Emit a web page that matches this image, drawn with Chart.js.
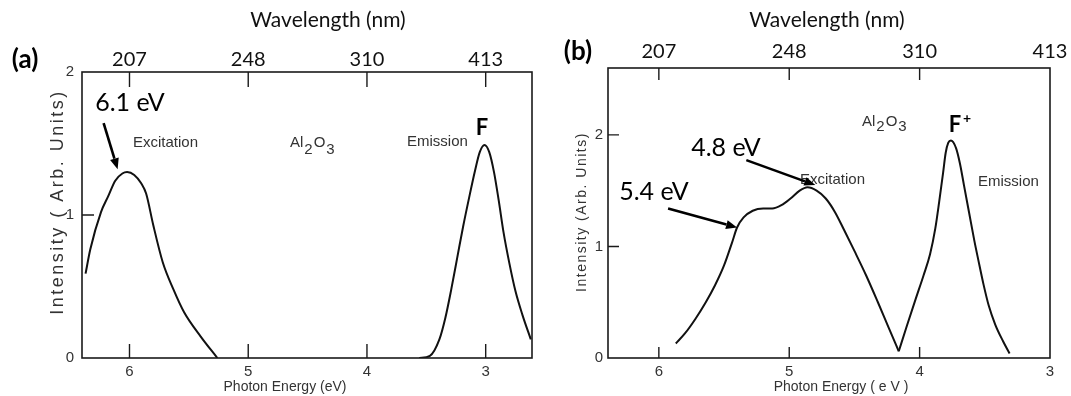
<!DOCTYPE html>
<html lang="en">
<head>
<meta charset="UTF-8">
<title>Al2O3 F and F+ centre spectra</title>
<script src="https://cdn.jsdelivr.net/npm/chart.js"></script>
<style>
  body { margin: 0; background: #fff; }
  canvas { position: absolute; top: 0; }
  #chart-a { left: 0; }
  #chart-b { left: 545px; }
</style>
</head>
<body>
<canvas id="chart-a" width="545" height="396"></canvas>
<canvas id="chart-b" width="526" height="396"></canvas>
<script>
// shared axes: photon energy (bottom) and the matching wavelength (top)
const energyTicks = [6, 5, 4, 3];
const wavelengthLabels = ['207', '248', '310', '413'];
const intensityTicks = [0, 1, 2];

// (a) F centre
const aExcitationEnergy = [6.37, 6.33, 6.24, 6.18, 6.12, 6.06, 6.02, 5.96, 5.90, 5.86, 5.80, 5.72, 5.63, 5.54, 5.40, 5.26];
const aExcitationIntensity = [0.59, 0.76, 1.02, 1.13, 1.24, 1.29, 1.30, 1.28, 1.22, 1.15, 0.93, 0.67, 0.48, 0.32, 0.15, 0.0];
const aEmissionEnergy = [3.56, 3.47, 3.39, 3.34, 3.29, 3.24, 3.19, 3.14, 3.09, 3.05, 3.01, 2.97, 2.93, 2.89, 2.85, 2.80, 2.75, 2.69, 2.62];
const aEmissionIntensity = [0.0, 0.015, 0.13, 0.28, 0.48, 0.70, 0.92, 1.12, 1.31, 1.44, 1.49, 1.44, 1.30, 1.10, 0.88, 0.66, 0.47, 0.30, 0.13];

// (b) F+ centre
const bExcitationEnergy = [5.87, 5.80, 5.72, 5.64, 5.57, 5.50, 5.44, 5.40, 5.35, 5.28, 5.20, 5.13, 5.06, 4.99, 4.92, 4.86, 4.79, 4.72, 4.65, 4.58, 4.50, 4.41, 4.32, 4.24, 4.16];
const bExcitationIntensity = [0.13, 0.22, 0.35, 0.50, 0.65, 0.83, 1.03, 1.17, 1.26, 1.32, 1.34, 1.34, 1.37, 1.43, 1.50, 1.53, 1.50, 1.43, 1.31, 1.15, 0.96, 0.74, 0.50, 0.28, 0.06];
const bEmissionEnergy = [4.16, 4.10, 4.03, 3.97, 3.92, 3.88, 3.85, 3.82, 3.80, 3.78, 3.76, 3.72, 3.69, 3.66, 3.62, 3.58, 3.55, 3.51, 3.47, 3.42, 3.36, 3.31];
const bEmissionIntensity = [0.06, 0.28, 0.53, 0.74, 0.93, 1.16, 1.40, 1.66, 1.84, 1.93, 1.95, 1.88, 1.74, 1.55, 1.30, 1.05, 0.88, 0.66, 0.47, 0.30, 0.15, 0.04];

// peak labels: [energy, intensity at arrow tip]
const aPeakMarks = [[6.1, 1.32]];
const bPeakMarks = [[4.8, 1.55], [5.4, 1.17]];

const CAL = 'Lato, "Open Sans", sans-serif';
const SCAN = '"Liberation Sans", Arial, sans-serif';

const panels = [
  {
    canvas: 'chart-a', offsetX: 0, width: 545,
    area: { left: 82, top: 72, right: 532, bottom: 358 },
    xMin: 2.61, xMax: 6.40, yMax: 2,
    series: [[aExcitationEnergy, aExcitationIntensity], [aEmissionEnergy, aEmissionIntensity]],
    topPad: 0, leftPad: 8,
    xTickMarks: [6, 5, 4, 3], yTickMarks: [1],
    tickLen: { top: 15, bottom: 14, left: 12 },
    letter: ['(a)', 25, 60],
    title: ['Wavelength (nm)', 328, 20],
    xTitle: ['Photon Energy (eV)', 285, 387],
    yTitle: ['Intensity ( Arb. Units)', 58, 202, 18, 2.5],
    labels: [['Excitation', 133, 143], ['Emission', 407, 142]],
    formula: [290, 143, 15, 7],
    centre: ['F', '', 482, 128],
    arrows: [{ text: '6.1 eV', tx: 130, ty: 103, mark: aPeakMarks[0], dx: -14, dy: -46 }]
  },
  {
    canvas: 'chart-b', offsetX: 545, width: 526,
    area: { left: 608, top: 68, right: 1050, bottom: 358 },
    xMin: 3.0, xMax: 6.39, yMax: 2.6,
    series: [[bExcitationEnergy, bExcitationIntensity], [bEmissionEnergy, bEmissionIntensity]],
    topPad: 4, leftPad: 5,
    xTickMarks: [6, 5, 4], yTickMarks: [1, 2],
    tickLen: { top: 12, bottom: 11, left: 11 },
    letter: ['(b)', 578, 52],
    title: ['Wavelength (nm)', 827, 20],
    xTitle: ['Photon Energy ( e V )', 841, 387],
    yTitle: ['Intensity (Arb. Units)', 582, 212, 14, 1.5],
    labels: [['Excitation', 800, 180], ['Emission', 978, 182]],
    formula: [862, 122, 15, 5],
    centre: ['F', '+', 955, 125],
    arrows: [
      { text: '4.8 eV', tx: 726, ty: 148, mark: bPeakMarks[0], dx: -69, dy: -25 },
      { text: '5.4 eV', tx: 654, ty: 192, mark: bPeakMarks[1], dx: -69, dy: -19 }
    ]
  }
];

function putText(ctx, str, x, y, font, align, color) {
  ctx.font = font;
  ctx.textAlign = align || 'center';
  ctx.textBaseline = 'middle';
  ctx.fillStyle = color || '#000';
  ctx.fillText(str, x, y);
}

// Al2O3 with dropped subscripts
function drawFormula(ctx, x, y, size, drop) {
  const parts = [['Al', 0], ['2', drop], ['O', 0], ['3', drop]];
  ctx.font = size + 'px ' + SCAN;
  ctx.textAlign = 'left';
  ctx.textBaseline = 'middle';
  ctx.fillStyle = '#333';
  parts.forEach(([s, d]) => {
    ctx.fillText(s, x, y + d);
    x += ctx.measureText(s).width + 1;
  });
}

function drawArrow(ctx, x0, y0, x1, y1) {
  const ang = Math.atan2(y1 - y0, x1 - x0);
  const head = 11, half = 4.5;
  const bx = x1 - head * Math.cos(ang), by = y1 - head * Math.sin(ang);
  ctx.strokeStyle = '#000';
  ctx.lineWidth = 2.6;
  ctx.beginPath();
  ctx.moveTo(x0, y0);
  ctx.lineTo(bx, by);
  ctx.stroke();
  ctx.fillStyle = '#000';
  ctx.beginPath();
  ctx.moveTo(x1, y1);
  ctx.lineTo(bx + half * Math.sin(ang), by - half * Math.cos(ang));
  ctx.lineTo(bx - half * Math.sin(ang), by + half * Math.cos(ang));
  ctx.closePath();
  ctx.fill();
}

function decorPlugin(p) {
  return {
    id: 'decor',
    afterDraw(chart) {
      const ctx = chart.ctx;
      const a = chart.chartArea;
      const xs = chart.scales.x, ys = chart.scales.y;
      const ox = p.offsetX;
      ctx.save();

      // plot frame and inward tick marks
      ctx.strokeStyle = '#1a1a1a';
      ctx.lineWidth = 1.6;
      ctx.strokeRect(a.left, a.top, a.right - a.left, a.bottom - a.top);
      ctx.lineWidth = 1.4;
      ctx.beginPath();
      p.xTickMarks.forEach(v => {
        const x = xs.getPixelForValue(v);
        ctx.moveTo(x, a.bottom); ctx.lineTo(x, a.bottom - p.tickLen.bottom);
        ctx.moveTo(x, a.top); ctx.lineTo(x, a.top + p.tickLen.top);
      });
      p.yTickMarks.forEach(v => {
        const y = ys.getPixelForValue(v);
        ctx.moveTo(a.left, y); ctx.lineTo(a.left + p.tickLen.left, y);
      });
      ctx.stroke();

      // titles
      putText(ctx, p.letter[0], p.letter[1] - ox, p.letter[2], 'bold 26px ' + CAL);
      putText(ctx, p.title[0], p.title[1] - ox, p.title[2], '21px ' + CAL, 'center', '#111');
      putText(ctx, p.xTitle[0], p.xTitle[1] - ox, p.xTitle[2], '14px ' + SCAN, 'center', '#333');

      const [yt, yx, yy, ysz, sp] = p.yTitle;
      ctx.save();
      ctx.translate(yx - ox, yy);
      ctx.rotate(-Math.PI / 2);
      ctx.letterSpacing = sp + 'px';
      putText(ctx, yt, 0, 0, ysz + 'px ' + SCAN, 'center', '#333');
      ctx.restore();

      // curve labels
      p.labels.forEach(([s, x, y]) => putText(ctx, s, x - ox, y, '15px ' + SCAN, 'left', '#333'));
      drawFormula(ctx, p.formula[0] - ox, p.formula[1], p.formula[2], p.formula[3]);

      const [c, sup, cx, cy] = p.centre;
      putText(ctx, c, cx - ox, cy, 'bold 22px ' + CAL, 'center', '#000');
      if (sup) putText(ctx, sup, cx - ox + 12, cy - 7, 'bold 14px ' + CAL, 'center', '#000');

      // peak annotations
      p.arrows.forEach(ar => {
        const tx = xs.getPixelForValue(ar.mark[0]);
        const ty = ys.getPixelForValue(ar.mark[1]);
        drawArrow(ctx, tx + ar.dx, ty + ar.dy, tx, ty);
        putText(ctx, ar.text, ar.tx - ox, ar.ty, '25px ' + CAL, 'center', '#000');
      });
      ctx.restore();
    }
  };
}

function buildChart(p) {
  const ox = p.offsetX;
  const left = p.area.left - ox, right = p.area.right - ox;
  const setTicks = s => { s.ticks = energyTicks.map(v => ({ value: v })); };
  const noGrid = { display: false, drawTicks: false };

  new Chart(document.getElementById(p.canvas), {
    type: 'line',
    data: {
      datasets: p.series.map(([en, inten]) => ({
        data: en.map((e, i) => ({ x: e, y: inten[i] })),
        borderColor: '#111',
        borderWidth: 2,
        pointRadius: 0,
        cubicInterpolationMode: 'monotone',
        fill: false
      }))
    },
    options: {
      responsive: false,
      animation: false,
      layout: { padding: { left: 0, top: 0, bottom: 0, right: p.width - right } },
      plugins: { legend: { display: false }, tooltip: { enabled: false } },
      scales: {
        x: {
          type: 'linear', position: 'bottom', reverse: true, min: p.xMin, max: p.xMax,
          afterBuildTicks: setTicks,
          grid: noGrid, border: { display: false },
          ticks: { font: { family: SCAN, size: 15 }, color: '#333', padding: 5, maxRotation: 0, autoSkip: false },
          afterFit: s => { s.height = 396 - p.area.bottom; s.paddingLeft = 0; s.paddingRight = 0; }
        },
        xTop: {
          type: 'linear', position: 'top', reverse: true, min: p.xMin, max: p.xMax,
          afterBuildTicks: setTicks,
          grid: noGrid, border: { display: false },
          ticks: {
            font: { family: CAL, size: 20 }, color: '#111', padding: p.topPad, maxRotation: 0, autoSkip: false,
            callback: v => wavelengthLabels[energyTicks.indexOf(v)]
          },
          afterFit: s => { s.height = p.area.top; s.paddingLeft = 0; s.paddingRight = 0; }
        },
        y: {
          type: 'linear', min: 0, max: p.yMax,
          afterBuildTicks: s => { s.ticks = intensityTicks.map(v => ({ value: v })); },
          grid: noGrid, border: { display: false },
          ticks: { font: { family: SCAN, size: 15 }, color: '#333', padding: p.leftPad },
          afterFit: s => { s.width = left; s.paddingTop = 0; s.paddingBottom = 0; }
        }
      }
    },
    plugins: [decorPlugin(p)]
  });
}

panels.forEach(buildChart);
</script>
</body>
</html>
